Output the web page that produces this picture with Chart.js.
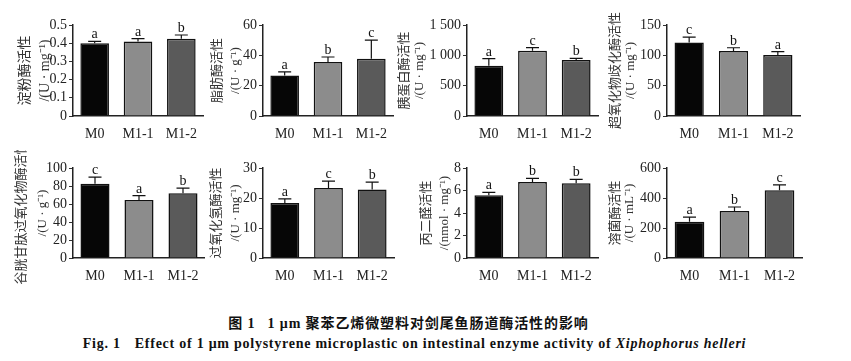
<!DOCTYPE html>
<html lang="zh">
<head>
    <meta charset="UTF-8">
    <title>1 μm 聚苯乙烯微塑料对剑尾鱼肠道酶活性的影响</title>
    <style>
        body {
            margin: 0;
            background: #fff;
        }
        #wrap {
            position: relative;
            width: 851px;
            height: 361px;
            overflow: hidden;
        }
        .cap {
            position: absolute;
            left: 0;
            width: 851px;
            text-align: center;
            white-space: nowrap;
            color: #111;
            font-weight: bold;
        }
        .cap-cn {
            top: 312px;
            left: -17px;
            font-family: 'Liberation Serif', 'Noto Sans CJK SC', serif;
            font-size: 14px;
            letter-spacing: 0.9px;
        }
        .cap-en {
            top: 336px;
            left: -11px;
            font-family: 'Liberation Serif', serif;
            font-size: 14px;
            letter-spacing: 0.75px;
        }
    </style>
    <script src="https://cdn.jsdelivr.net/npm/chart.js"></script>
</head>
<body>
<div id="wrap">
    <div class="cap cap-cn">图 1<span style="margin-left:12px">1 μm 聚苯乙烯微塑料对剑尾鱼肠道酶活性的影响</span></div>
    <div class="cap cap-en">Fig. 1<span style="margin-left:14px">Effect of 1 μm polystyrene microplastic on intestinal enzyme activity of <i>Xiphophorus helleri</i></span></div>
</div>

<script>
    // groups
    const groups = ['M0', 'M1-1', 'M1-2'];

    // 淀粉酶
    const amylaseMean = [0.40, 0.41, 0.425];
    const amylaseSD = [0.01, 0.015, 0.02];
    const amylaseSig = ['a', 'a', 'b'];
    const amylaseTicks = [0, 0.1, 0.2, 0.3, 0.4, 0.5];
    const amylaseTitle = ['淀粉酶活性', '/(U · mg⁻¹)'];

    // 脂肪酶
    const lipaseMean = [26.7, 35.6, 37.8];
    const lipaseSD = [2.4, 3.3, 12.2];
    const lipaseSig = ['a', 'b', 'c'];
    const lipaseTicks = [0, 20, 40, 60];
    const lipaseTitle = ['脂肪酶活性', '/(U · g⁻¹)'];

    // 胰蛋白酶
    const trypsinMean = [830, 1077, 923];
    const trypsinSD = [115, 49, 27];
    const trypsinSig = ['a', 'c', 'b'];
    const trypsinTicks = [0, 500, 1000, 1500];
    const trypsinTitle = ['胰蛋白酶活性', '/(U · mg⁻¹)'];

    // 超氧化物歧化酶
    const sodMean = [121, 107, 100.5];
    const sodSD = [9, 5.5, 5.5];
    const sodSig = ['c', 'b', 'a'];
    const sodTicks = [0, 50, 100, 150];
    const sodTitle = ['超氧化物歧化酶活性', '/(U · mg⁻¹)'];

    // 谷胱甘肽过氧化物酶
    const gpxMean = [82.4, 64.5, 72];
    const gpxSD = [7.5, 4.8, 5.6];
    const gpxSig = ['c', 'a', 'b'];
    const gpxTicks = [0, 20, 40, 60, 80, 100];
    const gpxTitle = ['谷胱甘肽过氧化物酶活性', '/(U · g⁻¹)'];

    // 过氧化氢酶
    const catMean = [18.3, 23.3, 22.8];
    const catSD = [1.4, 2.3, 2.5];
    const catSig = ['a', 'c', 'b'];
    const catTicks = [0, 10, 20, 30];
    const catTitle = ['过氧化氢酶活性', '/(U · mg⁻¹)'];

    // 丙二醛
    const mdaMean = [5.57, 6.76, 6.64];
    const mdaSD = [0.27, 0.32, 0.35];
    const mdaSig = ['a', 'b', 'b'];
    const mdaTicks = [0, 2, 4, 6, 8];
    const mdaTitle = ['丙二醛活性', '/(nmol · mg⁻¹)'];

    // 溶菌酶
    const lzmMean = [242, 313, 451];
    const lzmSD = [31, 27, 36];
    const lzmSig = ['a', 'b', 'c'];
    const lzmTicks = [0, 200, 400, 600];
    const lzmTitle = ['溶菌酶活性', '/(U · mL⁻¹)'];

    // look
    const barColors = ['#060606', '#8c8c8c', '#5a5a5a'];
    const serif = "'Liberation Serif', 'Noto Sans CJK SC', serif";

    // panel boxes (canvas position + paddings so plot areas line up with the figure)
    const boxes = [
        { left: 0,   top: 0,   w: 205, h: 150, padL: 15,  yW: 58,   padT: 25, xH: 34, padR: 2,  ts: 14, lh: 20 },
        { left: 205, top: 0,   w: 190, h: 150, padL: 4,   yW: 54,   padT: 25, xH: 34, padR: 2,  ts: 13, lh: 18 },
        { left: 395, top: 0,   w: 205, h: 150, padL: 2,   yW: 70,   padT: 25, xH: 34, padR: 2,  ts: 13, lh: 15 },
        { left: 600, top: 0,   w: 251, h: 150, padL: 8,   yW: 59,   padT: 25, xH: 34, padR: 51, ts: 13, lh: 15 },
        { left: 0,   top: 150, w: 205, h: 160, padL: 11,  yW: 62,   padT: 18, xH: 52, padR: 0,  ts: 13, lh: 21 },
        { left: 205, top: 150, w: 190, h: 160, padL: 2,   yW: 56,   padT: 18, xH: 52, padR: 1,  ts: 13, lh: 19 },
        { left: 395, top: 150, w: 205, h: 160, padL: 23,  yW: 49,   padT: 18, xH: 52, padR: 2,  ts: 13, lh: 18 },
        { left: 600, top: 150, w: 251, h: 160, padL: 9,   yW: 58,   padT: 18, xH: 52, padR: 49, ts: 13, lh: 14 }
    ];

    // draws the upper SD whisker and the significance letter over each bar
    const errorBarPlugin = {
        id: 'errorBars',
        afterDatasetsDraw(chart, args, opts) {
            const ctx = chart.ctx;
            const yScale = chart.scales.y;
            const bars = chart.getDatasetMeta(0).data;
            const means = chart.data.datasets[0].data;
            ctx.save();
            ctx.strokeStyle = '#111';
            ctx.fillStyle = '#111';
            ctx.lineWidth = 1.2;
            ctx.font = "14px 'Liberation Serif', serif";
            ctx.textAlign = 'center';
            ctx.textBaseline = 'alphabetic';
            bars.forEach((bar, i) => {
                const base = yScale.getPixelForValue(means[i]);
                const top = yScale.getPixelForValue(means[i] + opts.sd[i]);
                ctx.beginPath();
                ctx.moveTo(bar.x, base);
                ctx.lineTo(bar.x, top);
                ctx.moveTo(bar.x - 6.5, top);
                ctx.lineTo(bar.x + 6.5, top);
                ctx.stroke();
                ctx.fillText(opts.letters[i], bar.x, top - 3);
            });
            ctx.restore();
        }
    };

    function fmtTick(v, dec) {
        if (v === 0) return '0';
        return v.toFixed(dec).replace(/\B(?=(\d{3})+(?!\d))/g, ' ');
    }

    function makeChart(box, mean, sd, sig, ticks, title) {
        const canvas = document.createElement('canvas');
        canvas.width = box.w;
        canvas.height = box.h;
        canvas.style.cssText = 'position:absolute;left:' + box.left + 'px;top:' + box.top + 'px;width:' + box.w + 'px;height:' + box.h + 'px';
        document.getElementById('wrap').appendChild(canvas);

        const step = ticks[1] - ticks[0];
        const dec = (String(step).split('.')[1] || '').length;

        return new Chart(canvas, {
            type: 'bar',
            data: {
                labels: groups,
                datasets: [{
                    data: mean,
                    backgroundColor: barColors,
                    borderColor: '#111',
                    borderWidth: 1.5,
                    barPercentage: 0.66,
                    categoryPercentage: 1
                }]
            },
            options: {
                responsive: false,
                animation: false,
                layout: { padding: { left: box.padL, top: box.padT, right: box.padR, bottom: 0 } },
                plugins: {
                    legend: { display: false },
                    tooltip: { enabled: false },
                    errorBars: { sd: sd, letters: sig }
                },
                scales: {
                    x: {
                        grid: { display: false },
                        border: { color: '#222', width: 1.5 },
                        ticks: {
                            color: '#222',
                            font: { family: serif, size: 14 },
                            padding: 2,
                            maxRotation: 0,
                            autoSkip: false
                        },
                        afterFit: s => { s.height = box.xH; }
                    },
                    y: {
                        min: 0,
                        max: ticks[ticks.length - 1],
                        afterBuildTicks: s => { s.ticks = ticks.map(v => ({ value: v })); },
                        grid: { drawOnChartArea: false, tickLength: 4, color: '#333', tickWidth: 1 },
                        border: { color: '#222', width: 1.5 },
                        ticks: {
                            color: '#222',
                            font: { family: serif, size: 14 },
                            padding: 2,
                            autoSkip: false,
                            callback: v => fmtTick(v, dec)
                        },
                        title: {
                            display: true,
                            text: title,
                            color: '#333',
                            padding: 0,
                            font: { family: serif, size: box.ts, lineHeight: box.lh / box.ts }
                        },
                        afterFit: s => { s.width = box.yW; }
                    }
                }
            },
            plugins: [errorBarPlugin]
        });
    }

    makeChart(boxes[0], amylaseMean, amylaseSD, amylaseSig, amylaseTicks, amylaseTitle);
    makeChart(boxes[1], lipaseMean, lipaseSD, lipaseSig, lipaseTicks, lipaseTitle);
    makeChart(boxes[2], trypsinMean, trypsinSD, trypsinSig, trypsinTicks, trypsinTitle);
    makeChart(boxes[3], sodMean, sodSD, sodSig, sodTicks, sodTitle);
    makeChart(boxes[4], gpxMean, gpxSD, gpxSig, gpxTicks, gpxTitle);
    makeChart(boxes[5], catMean, catSD, catSig, catTicks, catTitle);
    makeChart(boxes[6], mdaMean, mdaSD, mdaSig, mdaTicks, mdaTitle);
    makeChart(boxes[7], lzmMean, lzmSD, lzmSig, lzmTicks, lzmTitle);
</script>
</body>
</html>
